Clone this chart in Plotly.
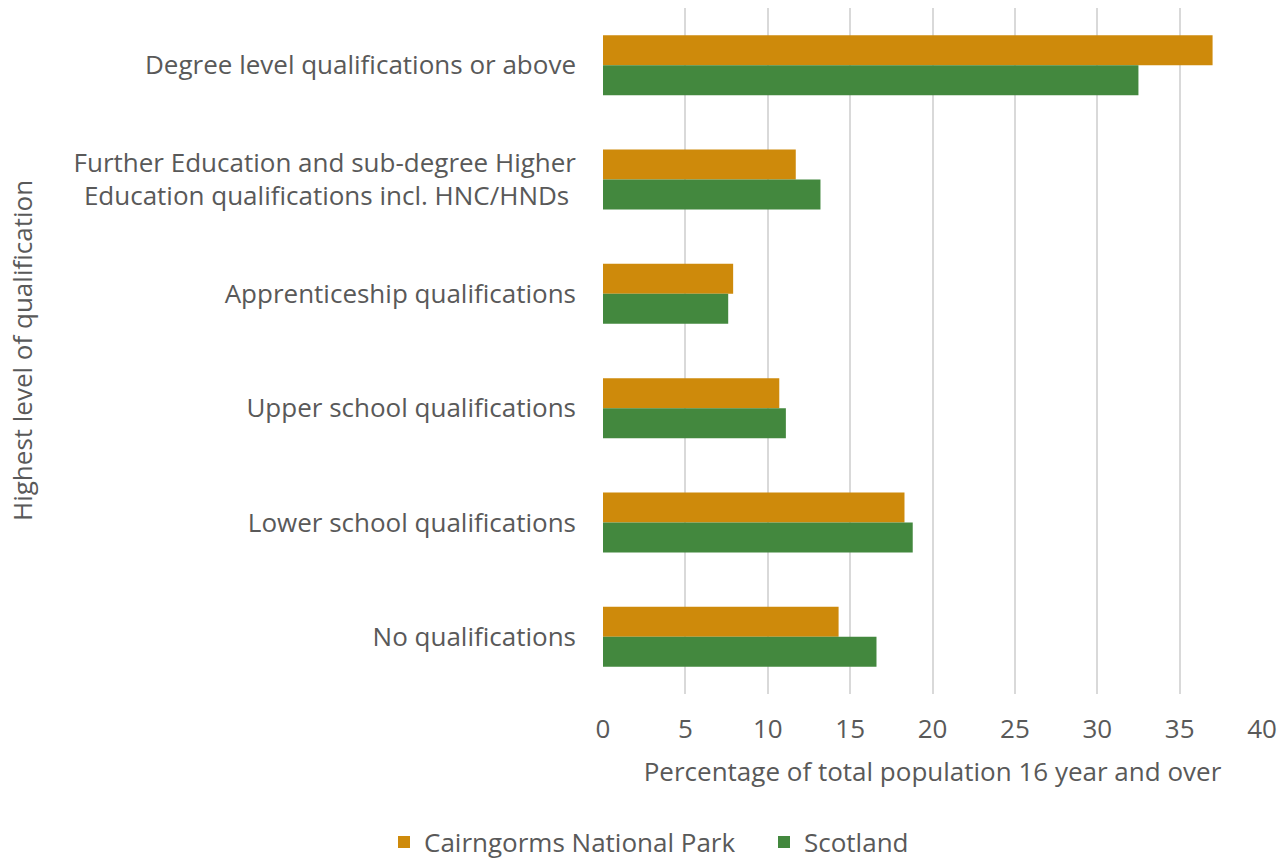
import plotly.graph_objects as go

categories = [
    "Degree level qualifications or above",
    "Further Education and sub-degree Higher<br>Education qualifications incl. HNC/HNDs ",
    "Apprenticeship qualifications",
    "Upper school qualifications",
    "Lower school qualifications",
    "No qualifications",
]
cairngorms = [37.0, 11.7, 7.9, 10.7, 18.3, 14.3]
scotland = [32.5, 13.2, 7.6, 11.1, 18.8, 16.6]
tick_vals = [0, 5, 10, 15, 20, 25, 30, 35, 40]

FONT = "Open Sans"
GREY = "#595959"

W, H = 1280, 851
L, R, T, B = 595, 26, 0, 165

fig = go.Figure()
fig.add_trace(go.Bar(y=categories, x=cairngorms, orientation="h",
                     name="Cairngorms National Park", marker_color="#CE8A0B",
                     marker_line_width=0, legend="legend", showlegend=True))
fig.add_trace(go.Bar(y=categories, x=scotland, orientation="h",
                     name="Scotland", marker_color="#43883E",
                     marker_line_width=0, legend="legend2", showlegend=True))

leg_common = dict(orientation="h", xref="container", xanchor="left",
                  yref="container", y=0.02, yanchor="middle",
                  font=dict(size=26, color=GREY), itemwidth=30,
                  bgcolor="rgba(0,0,0,0)", visible=True)

fig.update_layout(
    width=W, height=H, showlegend=True,
    margin=dict(l=L, r=R, t=T, b=B, autoexpand=False),
    plot_bgcolor="white", paper_bgcolor="white",
    barmode="group", bargap=0.475, bargroupgap=0,
    font=dict(family=FONT, color=GREY, size=26),
    xaxis=dict(range=[0, 40], tickvals=tick_vals, showgrid=True,
               gridcolor="#D9D9D9", gridwidth=2, zeroline=False,
               showline=False, ticks="outside", ticklen=12,
               tickcolor="rgba(0,0,0,0)",
               tickfont=dict(size=26, color=GREY),
               title=dict(text="Percentage of total population 16 year and over",
                          font=dict(size=26, color=GREY), standoff=17)),
    yaxis=dict(autorange="reversed", showgrid=False, showline=False,
               tickfont=dict(size=26, color=GREY), ticklabelstandoff=26),
    legend=dict(x=(398 - 8 - 14) / W, **leg_common),
    legend2=dict(x=(778 - 8 - 14) / W, **leg_common),
    annotations=[dict(text="Highest level of qualification", textangle=-90,
                      x=(14 - L) / (W - L - R), xref="paper", xanchor="center",
                      y=0.5, yref="paper", yanchor="middle", showarrow=False,
                      font=dict(size=26, color=GREY))],
)
fig.write_html("out.html")
